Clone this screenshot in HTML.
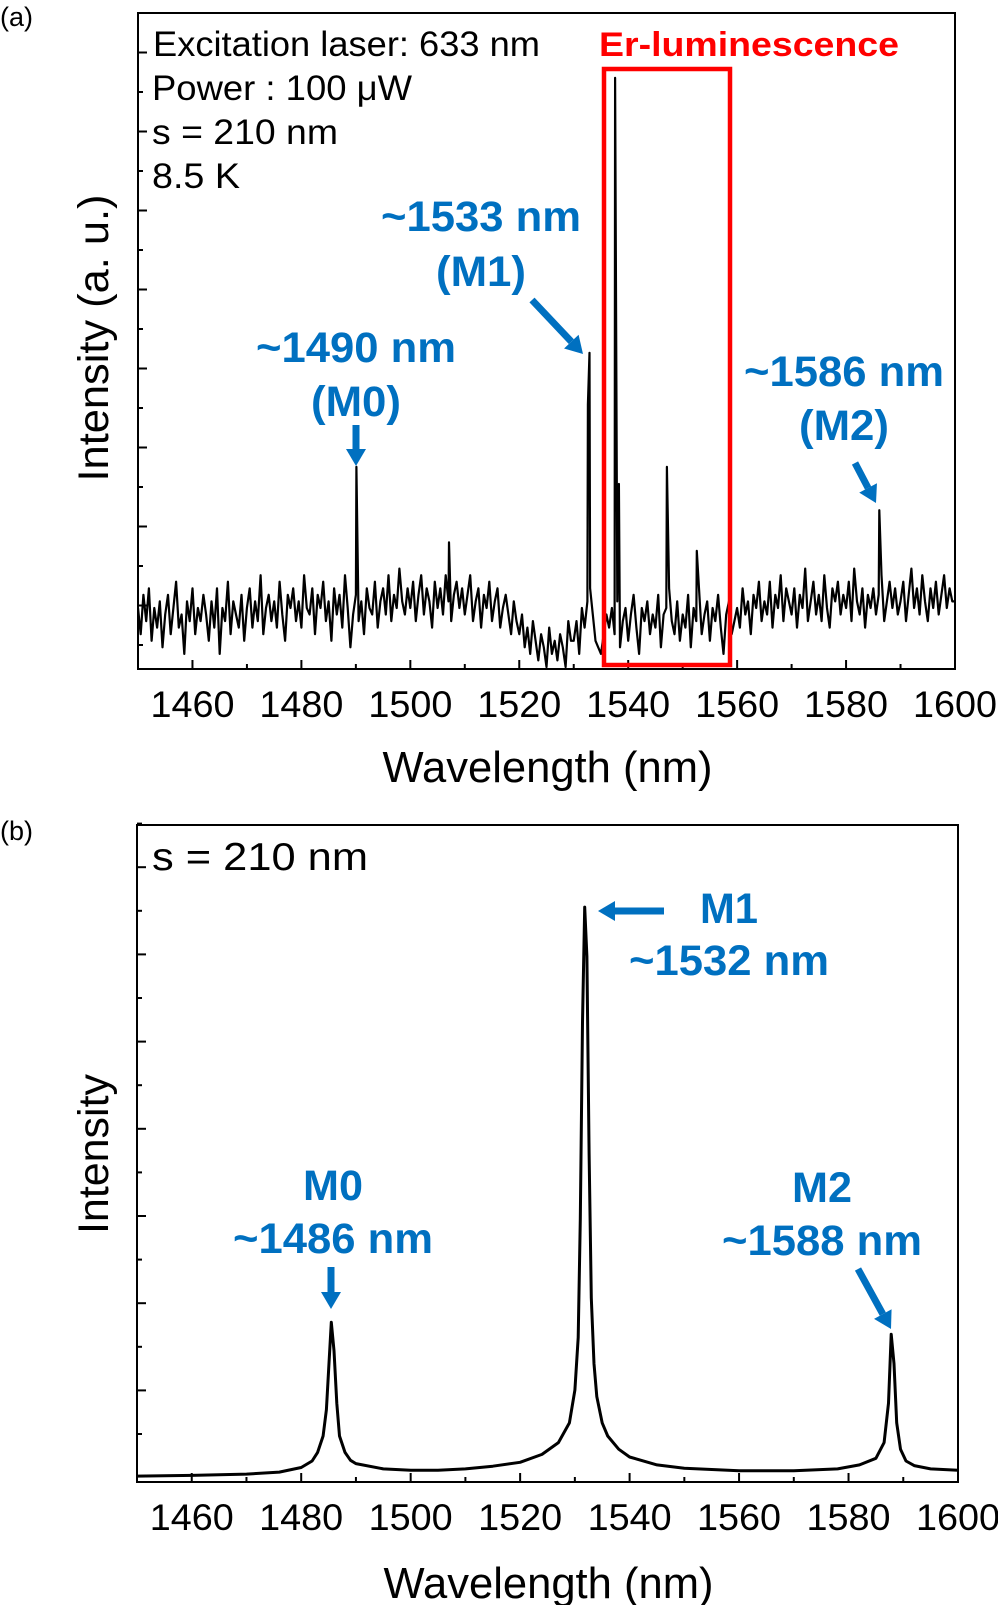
<!DOCTYPE html>
<html><head><meta charset="utf-8"><style>
html,body{margin:0;padding:0;background:#fff;}
svg{display:block;font-family:"Liberation Sans",Arial,sans-serif;}
</style></head><body>
<svg id="fig" width="998" height="1605" viewBox="0 0 998 1605" xmlns="http://www.w3.org/2000/svg">
<g id="pa"></g>
<g id="pb"></g>
</svg>
<script>
// ---- Panel (a) data ----
const aStartWl = 1450;
const aStepWl = 0.5;
const aNoise = [
9,5,11,7,12,4,9,6,10,3,
8,11,5,9,13,6,8,2,10,7,
12,5,9,7,11,8,4,10,6,12,
2,9,7,13,5,10,8,6,11,4,
9,12,6,10,7,14,5,9,11,7,
10,6,13,8,4,11,9,12,7,10,
6,14,9,8,12,5,11,9,13,7,
10,4,12,8,11,6,14,9,3,8,
11,7,10,5,12,9,8,13,6,10,
12,8,14,7,11,9,15,10,8,12,
9,13,7,11,14,8,12,10,6,13,
9,12,8,14,10,7,11,13,9,12,
8,11,14,7,10,12,6,11,9,13,
7,10,12,6,9,11,8,5,10,7,
5,8,3,6,2,7,4,1,5,3,
0,6,2,4,1,5,3,0,7,4,
4,7,2,9,6,10,12,8,4,3,
2,5,8,6,9,5,10,3,7,9,
4,8,11,6,2,9,7,10,5,8,
6,11,3,8,9,12,7,5,10,4,
8,6,11,3,9,7,12,5,8,10,
4,9,7,11,6,2,8,10,5,7,
9,6,12,8,10,5,11,9,13,7,
10,8,13,6,11,9,14,7,12,10,
8,12,6,11,9,15,7,10,13,8,
11,7,14,9,6,12,10,13,8,11,
9,13,7,15,10,8,12,6,11,9,
12,8,11,14,7,10,13,9,12,8,
10,13,7,11,15,9,12,8,14,10,
7,12,9,13,8,11,14,9,12,10,
10];
const aPeakWl = [1490.1, 1507.1, 1532.6, 1532.9, 1537.6, 1538.3, 1547.1, 1552.6, 1586.1];
const aPeakVal = [30.5, 19, 40, 47.9, 89.8, 27.9, 30.5, 17.7, 23.9];
const xTicks = [1460,1480,1500,1520,1540,1560,1580,1600];

// ---- Panel (b) data ----
const bWl = [1450,1460,1470,1476,1480,1482,1483,1484,1484.6,1485,1485.5,1486,1486.5,1487,1488,1489,1490,1495,1500,1505,1510,1515,1520,1524,1527,1529,1530,1530.6,1531,1531.4,1531.8,1532.2,1532.6,1533,1533.5,1534,1535,1536,1538,1540,1545,1550,1560,1570,1578,1582,1585,1586.5,1587.3,1587.8,1588.3,1588.8,1589.5,1590.5,1592,1595,1600];
const bVal = [0.9,1.0,1.2,1.5,2.2,3.2,4.5,7,11,17,24.3,20,12,7,4.5,3.3,2.8,2.0,1.8,1.8,2.0,2.4,3.0,4.2,6,9,14,22,40,70,87.5,80,50,28,18,13,9,7,5,3.8,2.6,2.1,1.7,1.7,2.0,2.6,3.6,6,12,22.5,18,9,5,3.2,2.5,2.0,1.8];

const NS = "http://www.w3.org/2000/svg";
const BLUE = "#0070C0";
function mk(parent, tag, attrs, text){
  const e = document.createElementNS(NS, tag);
  for (const k in attrs) e.setAttribute(k, attrs[k]);
  if (text !== undefined) e.textContent = text;
  parent.appendChild(e);
  return e;
}

function axes(g, L, R, T, B, yTick0, yTickStep, nY, tickBase, titleY, yTitle, yTitleX, yTitleY, yTitleLen){
  const sx = wl => L + (wl - 1450) / 150 * (R - L);
  const fr = mk(g, 'rect', {x:L, y:T, width:R-L, height:B-T, fill:'none', stroke:'#000', 'stroke-width':2});
  
  
  for (let v = 1450; v <= 1600; v += 10){
    const major = (v - 1460) % 20 === 0;
    const t = mk(g, 'line', {x1:sx(v), x2:sx(v), y1:B, y2:B-(major?9:5), stroke:'#000', 'stroke-width':2});
    
    
  }
  xTicks.forEach(v => {
    const t = mk(g, 'text', {x:sx(v), y:tickBase, 'font-size':37, 'text-anchor':'middle', fill:'#000', textLength:84, lengthAdjust:'spacingAndGlyphs'}, String(v));
    
    
  });
  for (let i = 0; i < nY; i++){
    const y = yTick0 - i * yTickStep;
    const major = i % 2 === 1;
    const t = mk(g, 'line', {x1:L, x2:L+(major?9:5), y1:y, y2:y, stroke:'#000', 'stroke-width':2});
    
    
  }
  const xt = mk(g, 'text', {x:(L+R)/2+1, y:titleY, 'font-size':44, 'text-anchor':'middle', fill:'#000', textLength:330, lengthAdjust:'spacingAndGlyphs'}, 'Wavelength (nm)');
  
  
  const yt = mk(g, 'text', {x:yTitleX, y:yTitleY, 'font-size':43, 'text-anchor':'middle', fill:'#000', textLength:yTitleLen, lengthAdjust:'spacingAndGlyphs', transform:`rotate(-90 ${yTitleX} ${yTitleY})`}, yTitle);
  
  
  return sx;
}

function arrow(g, x1, y1, x2, y2, name){
  const dx = x2-x1, dy = y2-y1, len = Math.hypot(dx,dy), ux = dx/len, uy = dy/len;
  const hl = 17, hw = 10;
  const bx = x2 - ux*hl, by = y2 - uy*hl;
  const grp = mk(g, 'g', {});
  
  
  mk(grp, 'line', {x1:x1, y1:y1, x2:bx, y2:by, stroke:BLUE, 'stroke-width':7});
  mk(grp, 'polygon', {points:`${x2},${y2} ${bx-uy*hw},${by+ux*hw} ${bx+uy*hw},${by-ux*hw}`, fill:BLUE});
}

function label(g, x, y, txt, size, color, bold, anchor, name, tl){
  const a = {x:x, y:y, 'font-size':size, fill:color, 'text-anchor':anchor||'start'};
  if (bold) a['font-weight'] = 'bold';
  if (tl){ a.textLength = tl; a.lengthAdjust = 'spacingAndGlyphs'; }
  const t = mk(g, 'text', a, txt);
  
  
  return t;
}

// ---- Panel (a) ----
(function(){
  const g = document.getElementById('pa');
  const L=138, R=955, T=13, B=669;
  const sy = v => B - 2 - v * 6.56;
  label(g, 0, 26, '(a)', 27, '#000', false, 'start', 'panel-label-a');
  const sx = axes(g, L, R, T, B, 645, 39.5, 16, 717, 782, 'Intensity (a. u.)', 108, 338, 287);
  const pts = aNoise.map((v,i) => [aStartWl + i*aStepWl, v]);
  aPeakWl.forEach((w,i) => pts.push([w, aPeakVal[i]]));
  pts.sort((p,q) => p[0]-q[0]);
  const cp = mk(g, 'clipPath', {id:'clipa'});
  mk(cp, 'rect', {x:L, y:T, width:R-L, height:B-T});
  const d = pts.map((p,i) => (i?'L':'M') + sx(p[0]).toFixed(1) + ',' + Math.min(sy(p[1]), B+4).toFixed(1)).join('');
  const line = mk(g, 'path', {d:d, fill:'none', stroke:'#000', 'stroke-width':2.2, 'stroke-linejoin':'round', 'clip-path':'url(#clipa)'});
  
  
  const box = mk(g, 'rect', {x:604, y:69, width:126, height:596, fill:'none', stroke:'#FF0000', 'stroke-width':4.5});
  
  
  label(g, 153, 56, 'Excitation laser: 633 nm', 35, '#000', false, 'start', 'excitation-text', 387);
  label(g, 152, 100, 'Power : 100 μW', 35, '#000', false, 'start', 'power-text', 260);
  label(g, 152, 144, 's = 210 nm', 35, '#000', false, 'start', 'spacing-text', 186);
  label(g, 152, 188, '8.5 K', 35, '#000', false, 'start', 'temperature-text', 88);
  label(g, 599, 56, 'Er-luminescence', 34, '#FF0000', true, 'start', 'er-luminescence-label', 300);
  label(g, 481, 231, '~1533 nm', 43, BLUE, true, 'middle', 'm1-wavelength-label', 200);
  label(g, 481, 286, '(M1)', 43, BLUE, true, 'middle', 'm1-label', 90);
  label(g, 356, 362, '~1490 nm', 43, BLUE, true, 'middle', 'm0-wavelength-label', 200);
  label(g, 356, 416, '(M0)', 43, BLUE, true, 'middle', 'm0-label', 90);
  label(g, 844, 386, '~1586 nm', 43, BLUE, true, 'middle', 'm2-wavelength-label', 200);
  label(g, 844, 440, '(M2)', 43, BLUE, true, 'middle', 'm2-label', 90);
  arrow(g, 356, 425, 356, 466, 'm0-arrow');
  arrow(g, 532, 300, 583, 354, 'm1-arrow');
  arrow(g, 855, 463, 876, 503, 'm2-arrow');
})();

// ---- Panel (b) ----
(function(){
  const g = document.getElementById('pb');
  const L=137, R=958, T=825, B=1482;
  const sy = v => B - v * 6.57;
  label(g, 0, 840, '(b)', 27, '#000', false, 'start', 'panel-label-b');
  const sx = axes(g, L, R, T, B, 1434, 43.6, 15, 1530, 1598, 'Intensity', 108, 1154, 160);
  const d = bWl.map((w,i) => (i?'L':'M') + sx(w).toFixed(1) + ',' + sy(bVal[i]).toFixed(1)).join('');
  const line = mk(g, 'path', {d:d, fill:'none', stroke:'#000', 'stroke-width':3, 'stroke-linejoin':'round'});
  
  
  label(g, 152, 870, 's = 210 nm', 39, '#000', false, 'start', 'spacing-text-b', 216);
  label(g, 729, 923, 'M1', 43, BLUE, true, 'middle', 'm1-label-b', 58);
  label(g, 729, 975, '~1532 nm', 43, BLUE, true, 'middle', 'm1-wavelength-label-b', 200);
  label(g, 333, 1200, 'M0', 43, BLUE, true, 'middle', 'm0-label-b', 60);
  label(g, 333, 1253, '~1486 nm', 43, BLUE, true, 'middle', 'm0-wavelength-label-b', 200);
  label(g, 822, 1202, 'M2', 43, BLUE, true, 'middle', 'm2-label-b', 60);
  label(g, 822, 1255, '~1588 nm', 43, BLUE, true, 'middle', 'm2-wavelength-label-b', 200);
  arrow(g, 664, 911, 598, 911, 'm1-arrow-b');
  arrow(g, 331, 1267, 331, 1309, 'm0-arrow-b');
  arrow(g, 858, 1269, 891, 1329, 'm2-arrow-b');
})();
</script>
</body></html>
